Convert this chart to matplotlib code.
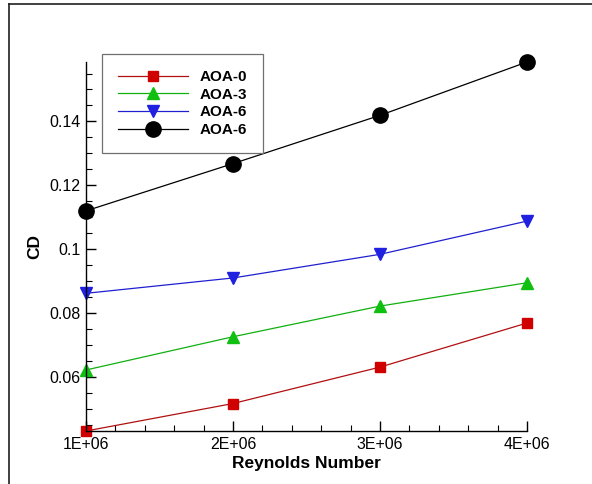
import matplotlib
matplotlib.use("Agg")
import matplotlib.pyplot as plt
from matplotlib.lines import Line2D
from matplotlib.ticker import MultipleLocator, FuncFormatter

plt.rcParams['font.family'] = ['Liberation Sans', 'DejaVu Sans']

# data
reynolds = [1e6, 2e6, 3e6, 4e6]
cd_aoa0 = [0.0431, 0.0517, 0.0631, 0.0769]
cd_aoa3 = [0.0622, 0.0726, 0.0822, 0.0895]
cd_aoa6 = [0.0862, 0.0910, 0.0984, 0.1088]
cd_aoa6b = [0.1120, 0.1268, 0.1419, 0.1586]
labels = ['AOA-0', 'AOA-3', 'AOA-6', 'AOA-6']

W, H = 592, 484
fig = plt.figure(figsize=(W / 100, H / 100), dpi=100)
ax = fig.add_axes([86 / W, 1 - 431 / H, (527 - 86) / W, (431 - 62) / H])

ax.plot(reynolds, cd_aoa0, color='#b01010', lw=0.9, marker='s', ms=7,
        mfc='#d00000', mec='#d00000', label=labels[0], clip_on=False)
ax.plot(reynolds, cd_aoa3, color='#10b010', lw=0.9, marker='^', ms=8.5,
        mfc='#10c010', mec='#10c010', label=labels[1], clip_on=False)
ax.plot(reynolds, cd_aoa6, color='#2020d0', lw=0.9, marker='v', ms=8.5,
        mfc='#2020e0', mec='#2020e0', label=labels[2], clip_on=False)
ax.plot(reynolds, cd_aoa6b, color='black', lw=0.9, marker='o', ms=11,
        mfc='black', mec='black', label=labels[3], clip_on=False)

ax.set_xlim(1e6, 4e6)
ax.set_ylim(0.0431, 0.1586)
for s in ['top', 'right']:
    ax.spines[s].set_visible(False)
for s in ['left', 'bottom']:
    ax.spines[s].set_linewidth(1.0)

ax.xaxis.set_major_locator(MultipleLocator(1e6))
ax.xaxis.set_minor_locator(MultipleLocator(2e5))
ax.yaxis.set_major_locator(MultipleLocator(0.02))
ax.yaxis.set_minor_locator(MultipleLocator(0.005))
ax.xaxis.set_major_formatter(FuncFormatter(lambda v, p: '{:.0E}'.format(v)))
ax.yaxis.set_major_formatter(FuncFormatter(lambda v, p: '{:g}'.format(round(v, 4))))
ax.tick_params(which='major', direction='in', length=7.5, width=1, labelsize=11.5, pad=4)
ax.tick_params(which='minor', direction='in', length=4, width=0.8)

ax.set_xlabel('Reynolds Number', fontsize=12.5, fontweight='bold', labelpad=3)
ax.set_ylabel('CD', fontsize=12.5, fontweight='bold', labelpad=5)

leg = ax.legend(loc='upper left', bbox_to_anchor=(102 / W, 1 - 54 / H),
                bbox_transform=fig.transFigure, borderaxespad=0,
                fancybox=False, edgecolor='#707070', framealpha=1,
                prop={'weight': 'bold', 'size': 11}, handlelength=4.6,
                labelspacing=0.24, borderpad=1.05, handletextpad=0.75)
leg.get_frame().set_linewidth(0.9)

# outer frame lines (left and top, as in the reference)
fig.add_artist(Line2D([9 / W, 9 / W], [0, 1 - 4 / H], transform=fig.transFigure,
                      color='#202020', lw=1.2))
fig.add_artist(Line2D([9 / W, 1], [1 - 4 / H, 1 - 4 / H], transform=fig.transFigure,
                      color='#202020', lw=1.2))

fig.savefig('out.png', dpi=100)
